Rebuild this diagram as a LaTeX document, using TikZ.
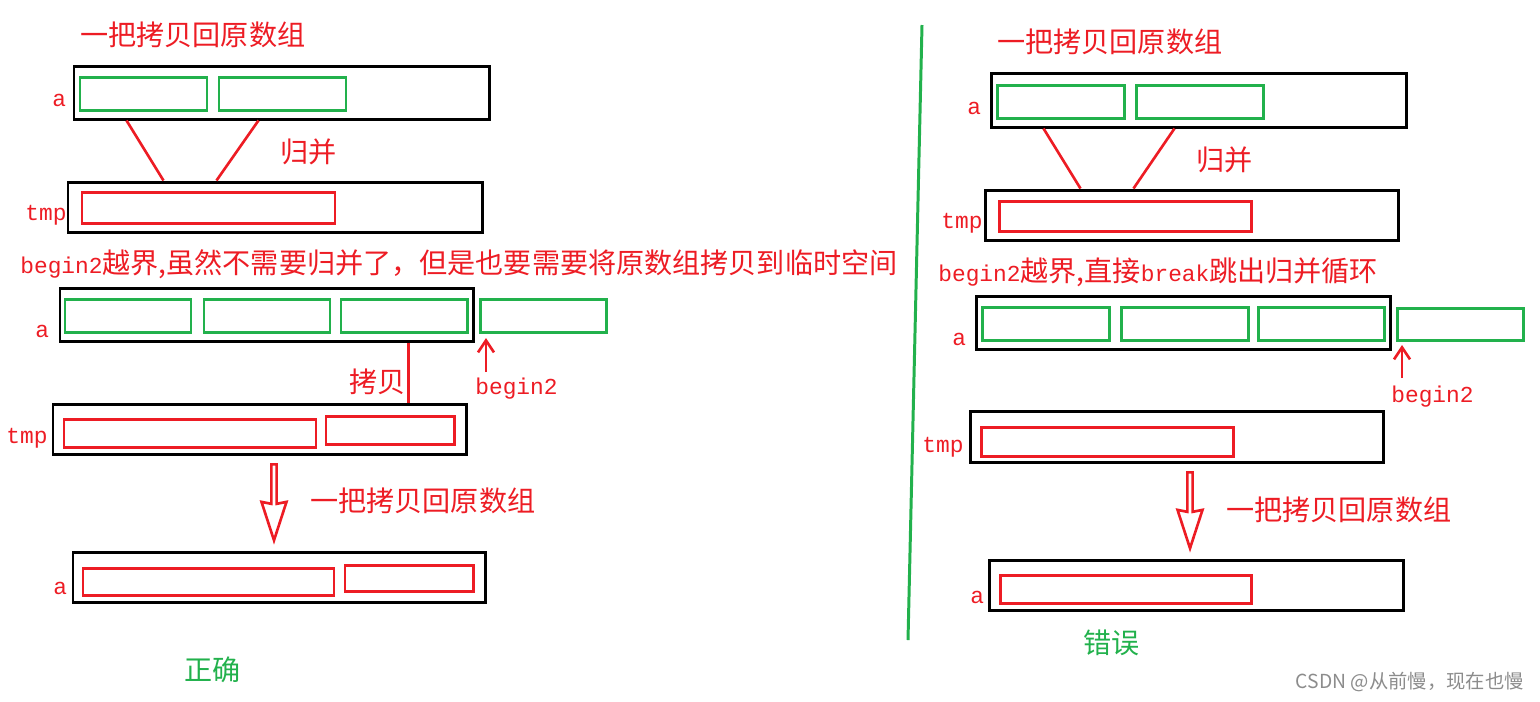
\documentclass[tikz,border=0pt]{standalone}
\usepackage{fontspec}
\newfontfamily\cjk{Noto Sans CJK SC}
\newfontfamily\mono{Liberation Mono}
\usetikzlibrary{positioning,shapes.arrows,arrows.meta,calc,fit}
\definecolor{pred}{RGB}{237,28,36}
\definecolor{pgreen}{RGB}{34,177,76}
\newcommand\latin[1]{{\mono\fontsize{13}{16}\selectfont #1}}

\begin{document}
\begin{tikzpicture}[
  x=0.02cm, y=-0.02cm,
  frame/.style  = {rectangle, draw=black, line width=1.7pt, inner sep=0pt, fit={#1}},
  gcell/.style  = {rectangle, draw=pgreen, line width=1.7pt, inner sep=0pt, fit={#1}},
  rcell/.style  = {rectangle, draw=pred, line width=1.7pt, inner sep=0pt, fit={#1}},
  cn/.style     = {text=pred, font=\cjk\fontsize{16}{19}\selectfont, anchor=west, inner sep=0pt},
  en/.style     = {text=pred, font=\mono\fontsize{13}{16}\selectfont, anchor=west, inner sep=0pt},
  ok/.style     = {cn, text=pgreen},
  merge/.style  = {draw=pred, line width=1.5pt},
  ptr/.style    = {draw=pred, line width=1.5pt, -{Straight Barb[length=2.4mm, width=3.2mm]}},
  hollow/.style = {single arrow, draw=pred, fill=white, line width=1.5pt, inner sep=0pt,
                   shape border rotate=270, minimum height=1.52cm, minimum width=0.5cm,
                   single arrow head extend=0.1cm, single arrow tip angle=36,
                   single arrow head indent=0.04cm, anchor=tail},
  wm/.style     = {text=black!45, font=\cjk\fontsize{11}{13}\selectfont, anchor=east, inner sep=0pt}
]
\useasboundingbox (0,0) rectangle (1540,701);

% --- Linke Seite: richtig ------------------------------------------------------
\node[cn] (tl) at (80,35) {一把拷贝回原数组};

\node[frame={(74,66)(489,119)}] (a1) {};
\node[gcell={(80,77)(207,110)}] (a1c1) {};
\node[gcell={(219,77)(346,110)}] (a1c2) {};
\node[en] (la1) at (52,100) {a};

\node[frame={(68,182)(482,232)}] (tmp1) {};
\node[rcell={(82,192)(335,223)}] (tmp1c1) {};
\node[en] (lt1) at (25,215) {tmp};

\draw[merge] ([xshift=1.08cm]a1.south west) -- ([xshift=1.94cm]tmp1.north west);
\draw[merge] ([xshift=3.72cm]a1.south west) -- ([xshift=3.0cm]tmp1.north west);
\node[cn] (gb1) at (280,152) {归并};

\node[cn] (note1) at (20,264) {\latin{begin2}越界,虽然不需要归并了，但是也要需要将原数组拷贝到临时空间};

\node[frame={(60,288)(473,341)}] (a2) {};
\node[gcell={(65,299)(191,332)}] (a2c1) {};
\node[gcell={(204,299)(330,332)}] (a2c2) {};
\node[gcell={(341,299)(467,332)}] (a2c3) {};
\node[gcell={(480,299)(606,332)}] (a2c4) {};
\node[en] (la2) at (35,331) {a};

\node[frame={(53,404)(466,454)}] (tmp2) {};
\node[rcell={(64,419)(316,447)}] (tmp2c1) {};
\node[rcell={(326,416)(454,444)}] (tmp2c2) {};
\node[en] (lt2) at (6,438) {tmp};

\draw[merge] ([xshift=7cm]a2.south west) -- ([xshift=7cm]a2.south west |- tmp2.north);
\node[cn] (cp1) at (349,382) {拷贝};

\coordinate (b2l) at (486,338);
\draw[ptr] ([yshift=-0.68cm]b2l) -- (b2l);
\node[en] (lb2l) at (475,389) {begin2};

\node[hollow] (down1) at (274,463) {};
\node[cn] (back1) at (310,501) {一把拷贝回原数组};

\node[frame={(73,552)(485,602)}] (a3) {};
\node[rcell={(83,568)(334,595)}] (a3c1) {};
\node[rcell={(345,565)(473,591)}] (a3c2) {};
\node[en] (la3) at (53,588) {a};

\node[ok] (right) at (184,670) {正确};

% --- Trennlinie ----------------------------------------------------------------
\draw[pgreen, line width=1.7pt] (922,25) -- (908,640);

% --- Rechte Seite: falsch ------------------------------------------------------
\node[cn] (tr) at (997,42) {一把拷贝回原数组};

\node[frame={(991,73)(1406,127)}] (b1) {};
\node[gcell={(997,85)(1124,118)}] (b1c1) {};
\node[gcell={(1136,85)(1263,118)}] (b1c2) {};
\node[en] (lb1) at (967,108) {a};

\node[frame={(985,190)(1398,240)}] (tmp3) {};
\node[rcell={(999,201)(1251,231)}] (tmp3c1) {};
\node[en] (lt3) at (941,223) {tmp};

\draw[merge] ([xshift=1.08cm]b1.south west) -- ([xshift=1.94cm]tmp3.north west);
\draw[merge] ([xshift=3.7cm]b1.south west) -- ([xshift=3.0cm]tmp3.north west);
\node[cn] (gb2) at (1196,160) {归并};

\node[cn] (note2) at (938,272) {\latin{begin2}越界,直接\latin{break}跳出归并循环};

\node[frame={(976,296)(1390,349)}] (b2) {};
\node[gcell={(982,307)(1109,340)}] (b2c1) {};
\node[gcell={(1121,307)(1248,340)}] (b2c2) {};
\node[gcell={(1258,307)(1384,340)}] (b2c3) {};
\node[gcell={(1397,308)(1523,340)}] (b2c4) {};
\node[en] (lb2) at (952,339) {a};

\coordinate (b2r) at (1402,345);
\draw[ptr] ([yshift=-0.66cm]b2r) -- (b2r);
\node[en] (lb2r) at (1391,397) {begin2};

\node[frame={(970,411)(1383,462)}] (tmp4) {};
\node[rcell={(981,427)(1233,456)}] (tmp4c1) {};
\node[en] (lt4) at (922,447) {tmp};

\node[hollow] (down2) at (1190,471) {};
\node[cn] (back2) at (1226,510) {一把拷贝回原数组};

\node[frame={(989,560)(1403,610)}] (b3) {};
\node[rcell={(1000,575)(1251,603)}] (b3c1) {};
\node[en] (lb3) at (970,597) {a};

\node[ok] (wrong) at (1083,643) {错误};

% --- Wasserzeichen -------------------------------------------------------------
\node[wm] (csdn) at (1524,682) {CSDN @从前慢，现在也慢};

\end{tikzpicture}
\end{document}
